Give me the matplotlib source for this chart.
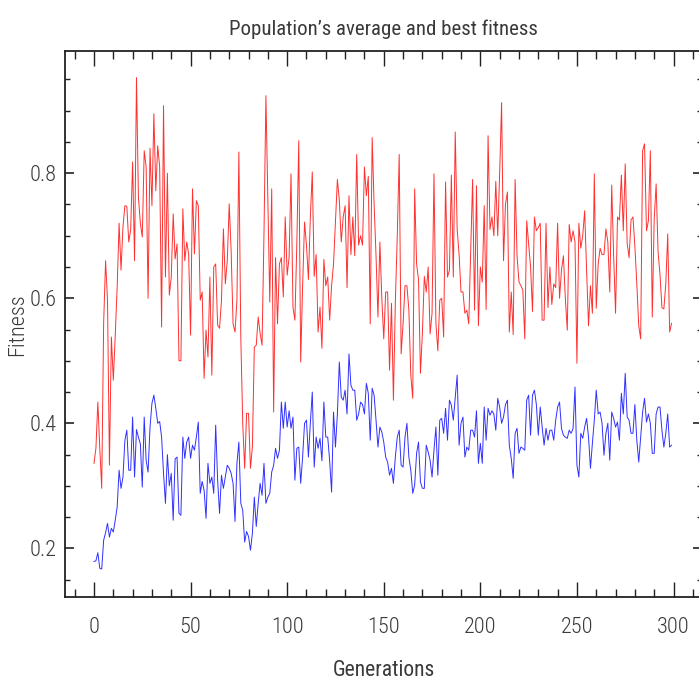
import matplotlib.pyplot as plt
from matplotlib.ticker import MultipleLocator

# best fitness per generation (red)
best_fitness = [
    0.336, 0.36, 0.434, 0.36, 0.296, 0.56, 0.66, 0.597, 0.333, 0.538,
    0.469, 0.54, 0.618, 0.72, 0.645, 0.714, 0.748, 0.747, 0.69, 0.71,
    0.818, 0.66, 0.953, 0.762, 0.72, 0.698, 0.836, 0.81, 0.6, 0.84,
    0.748, 0.895, 0.772, 0.844, 0.81, 0.554, 0.908, 0.634, 0.80, 0.605,
    0.634, 0.735, 0.663, 0.687, 0.50, 0.50, 0.743, 0.66, 0.69, 0.671,
    0.541, 0.775, 0.671, 0.756, 0.748, 0.597, 0.61, 0.472, 0.549, 0.506,
    0.634, 0.477, 0.65, 0.655, 0.557, 0.552, 0.597, 0.711, 0.623, 0.66,
    0.751, 0.675, 0.559, 0.546, 0.597, 0.834, 0.538, 0.40, 0.328, 0.416,
    0.416, 0.328, 0.362, 0.522, 0.525, 0.57, 0.544, 0.525, 0.703, 0.924,
    0.762, 0.594, 0.775, 0.418, 0.665, 0.559, 0.655, 0.665, 0.602, 0.73,
    0.637, 0.665, 0.799, 0.586, 0.565, 0.687, 0.852, 0.498, 0.62, 0.722,
    0.685, 0.63, 0.73, 0.802, 0.635, 0.67, 0.546, 0.586, 0.52, 0.662,
    0.62, 0.634, 0.565, 0.62, 0.655, 0.722, 0.79, 0.757, 0.69, 0.73,
    0.748, 0.617, 0.764, 0.67, 0.73, 0.668, 0.83, 0.685, 0.70, 0.685,
    0.81, 0.764, 0.795, 0.559, 0.857, 0.751, 0.668, 0.57, 0.69, 0.6,
    0.535, 0.61, 0.61, 0.485, 0.592, 0.437, 0.594, 0.70, 0.83, 0.511,
    0.559, 0.62, 0.62, 0.581, 0.477, 0.44, 0.775, 0.655, 0.63, 0.48,
    0.544, 0.635, 0.61, 0.65, 0.543, 0.576, 0.799, 0.56, 0.516, 0.597,
    0.6, 0.538, 0.786, 0.634, 0.645, 0.797, 0.634, 0.866, 0.71, 0.67,
    0.61, 0.61, 0.576, 0.581, 0.559, 0.672, 0.79, 0.581, 0.78, 0.556,
    0.65, 0.626, 0.748, 0.582, 0.86, 0.71, 0.73, 0.70, 0.787, 0.70,
    0.80, 0.913, 0.66, 0.75, 0.77, 0.546, 0.61, 0.542, 0.79, 0.668,
    0.626, 0.62, 0.613, 0.535, 0.724, 0.687, 0.65, 0.579, 0.73, 0.708,
    0.713, 0.72, 0.565, 0.565, 0.72, 0.585, 0.65, 0.59, 0.623, 0.617,
    0.72, 0.60, 0.645, 0.668, 0.6, 0.549, 0.718, 0.69, 0.708, 0.69,
    0.496, 0.72, 0.68, 0.70, 0.74, 0.645, 0.556, 0.62, 0.576, 0.799,
    0.584, 0.655, 0.68, 0.67, 0.67, 0.711, 0.69, 0.61, 0.781, 0.668,
    0.576, 0.73, 0.725, 0.797, 0.708, 0.815, 0.688, 0.665, 0.725, 0.73,
    0.683, 0.623, 0.556, 0.535, 0.836, 0.847, 0.708, 0.724, 0.836, 0.57,
    0.727, 0.783, 0.674, 0.638, 0.585, 0.583, 0.623, 0.703, 0.546, 0.56,
]

# population average fitness per generation (blue)
avg_fitness = [
    0.179, 0.18, 0.193, 0.168, 0.167, 0.213, 0.225, 0.24, 0.218, 0.232,
    0.226, 0.245, 0.266, 0.325, 0.296, 0.314, 0.373, 0.389, 0.325, 0.325,
    0.41, 0.314, 0.39, 0.378, 0.367, 0.298, 0.41, 0.341, 0.322, 0.393,
    0.432, 0.445, 0.424, 0.40, 0.403, 0.378, 0.32, 0.272, 0.35, 0.30,
    0.32, 0.245, 0.343, 0.346, 0.256, 0.253, 0.378, 0.344, 0.37, 0.378,
    0.344, 0.365, 0.357, 0.378, 0.402, 0.288, 0.307, 0.293, 0.248, 0.336,
    0.304, 0.314, 0.288, 0.397, 0.31, 0.256, 0.317, 0.296, 0.314, 0.333,
    0.328, 0.32, 0.304, 0.243, 0.336, 0.37, 0.272, 0.261, 0.21, 0.227,
    0.219, 0.197, 0.224, 0.282, 0.235, 0.272, 0.304, 0.285, 0.336, 0.272,
    0.282, 0.288, 0.322, 0.333, 0.36, 0.344, 0.357, 0.434, 0.392, 0.434,
    0.394, 0.42, 0.392, 0.41, 0.309, 0.36, 0.362, 0.304, 0.346, 0.40,
    0.405, 0.346, 0.40, 0.45, 0.33, 0.378, 0.36, 0.376, 0.34, 0.434,
    0.378, 0.378, 0.34, 0.29, 0.418, 0.362, 0.415, 0.498, 0.442, 0.437,
    0.453, 0.415, 0.511, 0.461, 0.453, 0.453, 0.405, 0.415, 0.434, 0.43,
    0.415, 0.464, 0.448, 0.373, 0.456, 0.445, 0.405, 0.362, 0.394, 0.386,
    0.37, 0.346, 0.338, 0.317, 0.328, 0.304, 0.346, 0.378, 0.389, 0.333,
    0.33, 0.378, 0.40, 0.346, 0.325, 0.288, 0.301, 0.352, 0.37, 0.306,
    0.296, 0.296, 0.365, 0.354, 0.341, 0.314, 0.357, 0.394, 0.317, 0.405,
    0.408, 0.384, 0.424, 0.373, 0.437, 0.429, 0.405, 0.44, 0.477, 0.365,
    0.40, 0.41, 0.346, 0.362, 0.357, 0.389, 0.389, 0.378, 0.42, 0.336,
    0.368, 0.336, 0.426, 0.373, 0.424, 0.413, 0.42, 0.415, 0.389, 0.44,
    0.426, 0.40, 0.41, 0.43, 0.437, 0.365, 0.344, 0.312, 0.384, 0.392,
    0.352, 0.362, 0.36, 0.357, 0.437, 0.445, 0.381, 0.445, 0.453, 0.43,
    0.381, 0.426, 0.394, 0.365, 0.392, 0.373, 0.389, 0.389, 0.373, 0.405,
    0.426, 0.434, 0.392, 0.381, 0.378, 0.376, 0.389, 0.384, 0.392, 0.458,
    0.333, 0.314, 0.384, 0.376, 0.394, 0.408, 0.378, 0.328, 0.368, 0.405,
    0.453, 0.415, 0.418, 0.40, 0.349, 0.384, 0.40, 0.341, 0.418, 0.408,
    0.394, 0.402, 0.373, 0.448, 0.415, 0.48, 0.41, 0.405, 0.384, 0.384,
    0.43, 0.373, 0.338, 0.378, 0.418, 0.44, 0.402, 0.415, 0.40, 0.352,
    0.352, 0.415, 0.426, 0.426, 0.389, 0.362, 0.384, 0.415, 0.362, 0.365,
]

generations = list(range(len(best_fitness)))

plt.rcParams['font.family'] = ['Roboto Condensed', 'Liberation Sans Narrow', 'Lato', 'DejaVu Sans']
plt.rcParams['font.weight'] = 'light'
text_color = '#3a3a3a'

fig = plt.figure(figsize=(6.99, 6.84), dpi=100)
ax = fig.add_axes([0.093, 0.127, 0.912, 0.798])

ax.plot(generations, best_fitness, color='#ff3030', linewidth=0.7)
ax.plot(generations, avg_fitness, color='#3030ff', linewidth=0.7)

ax.set_xlim(-15, 315)
ax.set_ylim(0.122, 0.995)

ax.xaxis.set_major_locator(MultipleLocator(50))
ax.xaxis.set_minor_locator(MultipleLocator(10))
ax.yaxis.set_major_locator(MultipleLocator(0.2))
ax.yaxis.set_minor_locator(MultipleLocator(0.05))

ax.tick_params(axis='both', which='both', direction='in', top=True, right=True,
               colors='#222222', labelcolor=text_color, labelsize=16)
ax.tick_params(axis='x', which='major', length=11, width=1, pad=14)
ax.tick_params(axis='x', which='minor', length=5.5, width=1)
ax.tick_params(axis='y', which='major', length=6.5, width=1.2, pad=6)
ax.tick_params(axis='y', which='minor', length=3.5, width=1)

for spine in ax.spines.values():
    spine.set_linewidth(1.3)
    spine.set_color('#222222')

ax.set_title("Population\u2019s average and best fitness", fontsize=15,
             color=text_color, pad=12)
ax.set_xlabel('Generations', fontsize=15.5, color=text_color, labelpad=16)
ax.set_ylabel('Fitness', fontsize=16, color=text_color, fontweight='light')
ax.yaxis.set_label_coords(-0.058, 0.5)

fig.savefig('out.png', dpi=100)
